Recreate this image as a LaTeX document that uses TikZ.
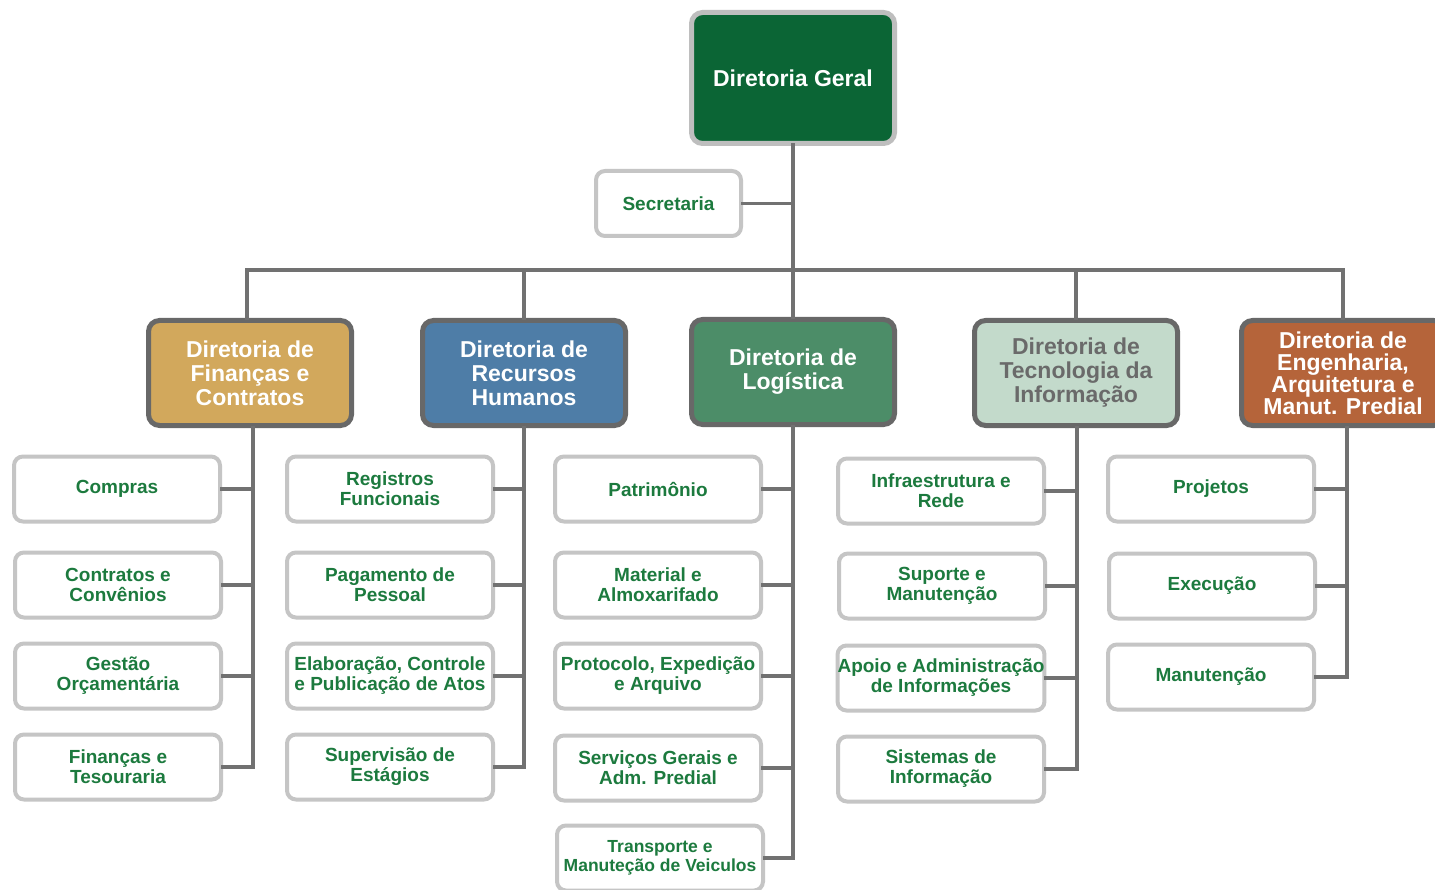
\documentclass[tikz,border=0pt]{standalone}
\usepackage{fontspec}
\setmainfont{Liberation Sans}
\definecolor{dgfill}{HTML}{0B6535}
\definecolor{finfill}{HTML}{D2A85C}
\definecolor{rhfill}{HTML}{4E7DA7}
\definecolor{logfill}{HTML}{4C8D68}
\definecolor{tifill}{HTML}{C3DACB}
\definecolor{engfill}{HTML}{B5643A}
\definecolor{dirborder}{HTML}{686868}
\definecolor{dgborder}{HTML}{BEBEBE}
\definecolor{childborder}{HTML}{C5C5C5}
\definecolor{childtext}{HTML}{1C7A3E}
\definecolor{linecol}{HTML}{717171}
\definecolor{titext}{HTML}{6A6A6A}
\tikzset{
  dirbox/.style={draw=dirborder, line width=5pt, rounded corners=11pt,
    minimum width=203pt, minimum height=105pt, inner sep=0pt, outer sep=0pt,
    align=center, text=white, font=\fontsize{23}{24}\selectfont\bfseries},
  childbox/.style={draw=childborder, line width=4pt, rounded corners=9pt, fill=white,
    minimum width=206pt, minimum height=65pt, inner sep=0pt, outer sep=0pt,
    align=center, text=childtext, font=\fontsize{19}{20}\selectfont\bfseries},
  conn/.style={draw=linecol, line width=3.5pt}
}
\begin{document}
\begin{tikzpicture}[x=1pt,y=-1pt]
\useasboundingbox (0,0) rectangle (1435,890);
\clip (0,0) rectangle (1435,890);
\fill[white] (0,0) rectangle (1435,890);

% top
\node[dirbox, draw=dgborder, fill=dgfill, minimum width=203pt, minimum height=131pt] (dg) at (793,78) {Diretoria Geral};
\node[childbox, minimum width=145pt, minimum height=65pt] (sec) at (668.5,203.5) {Secretaria};

% directors
\node[dirbox, fill=finfill] (fin) at (250,373) {Diretoria de\\Finanças e\\Contratos};
\node[dirbox, fill=rhfill] (rh) at (524,373) {Diretoria de\\Recursos\\Humanos};
\node[dirbox, fill=logfill] (log) at (793,372) {Diretoria de\\Logística};
\node[dirbox, fill=tifill, text=titext] (ti) at (1076,373) {Diretoria de\\Tecnologia da\\Informação};
\node[dirbox, fill=engfill, font=\fontsize{23}{22}\selectfont\bfseries] (eng) at (1343,373) {Diretoria de\\Engenharia,\\Arquitetura e\\Manut. Predial};

% column 1
\node[childbox] (a1) at (117,489) {Compras};
\node[childbox] (a2) at (118,585) {Contratos e\\Convênios};
\node[childbox] (a3) at (118,676) {Gestão\\Orçamentária};
\node[childbox] (a4) at (118,767) {Finanças e\\Tesouraria};
% column 2
\node[childbox] (b1) at (390,489) {Registros\\Funcionais};
\node[childbox] (b2) at (390,585) {Pagamento de\\Pessoal};
\node[childbox] (b3) at (390,676) {Elaboração, Controle\\e Publicação de Atos};
\node[childbox] (b4) at (390,767) {Supervisão de\\Estágios};
% column 3
\node[childbox] (c1) at (658,489) {Patrimônio};
\node[childbox] (c2) at (658,585) {Material e\\Almoxarifado};
\node[childbox] (c3) at (658,676) {Protocolo, Expedição\\e Arquivo};
\node[childbox] (c4) at (658,768) {Serviços Gerais e\\Adm. Predial};
\node[childbox, font=\fontsize{17.5}{19}\selectfont\bfseries] (c5) at (660,858) {Transporte e\\Manuteção de Veiculos};
% column 4
\node[childbox] (d1) at (941,491) {Infraestrutura e\\Rede};
\node[childbox] (d2) at (942,586) {Suporte e\\Manutenção};
\node[childbox] (d3) at (941,678) {Apoio e Administração\\de Informações};
\node[childbox] (d4) at (941,769) {Sistemas de\\Informação};
% column 5
\node[childbox] (e1) at (1211,489) {Projetos};
\node[childbox] (e2) at (1212,586) {Execução};
\node[childbox] (e3) at (1211,677) {Manutenção};

% top connectors
\coordinate (busL) at (247,270);
\coordinate (busR) at (1343,270);
\draw[conn] (dg.south) -- (log.north);
\draw[conn] (sec.east) -- (sec.east -| dg.south);
\draw[conn] (fin.north -| busL) -- (busL) -- (busR) -- (eng.north);
\draw[conn] (rh.north) -- (rh.north |- busL);
\draw[conn] (ti.north) -- (ti.north |- busL);

% column trunks
\coordinate (tA) at (253,0);
\coordinate (tB) at (524,0);
\coordinate (tC) at (793,0);
\coordinate (tD) at (1077,0);
\coordinate (tE) at (1347,0);
\draw[conn] (fin.south -| tA) |- (a4.east);
\foreach \n in {a1,a2,a3} \draw[conn] (\n.east) -- (\n.east -| tA);
\draw[conn] (rh.south -| tB) |- (b4.east);
\foreach \n in {b1,b2,b3} \draw[conn] (\n.east) -- (\n.east -| tB);
\draw[conn] (log.south -| tC) |- (c5.east);
\foreach \n in {c1,c2,c3,c4} \draw[conn] (\n.east) -- (\n.east -| tC);
\draw[conn] (ti.south -| tD) |- (d4.east);
\foreach \n in {d1,d2,d3} \draw[conn] (\n.east) -- (\n.east -| tD);
\draw[conn] (eng.south -| tE) |- (e3.east);
\foreach \n in {e1,e2} \draw[conn] (\n.east) -- (\n.east -| tE);
\end{tikzpicture}
\end{document}
